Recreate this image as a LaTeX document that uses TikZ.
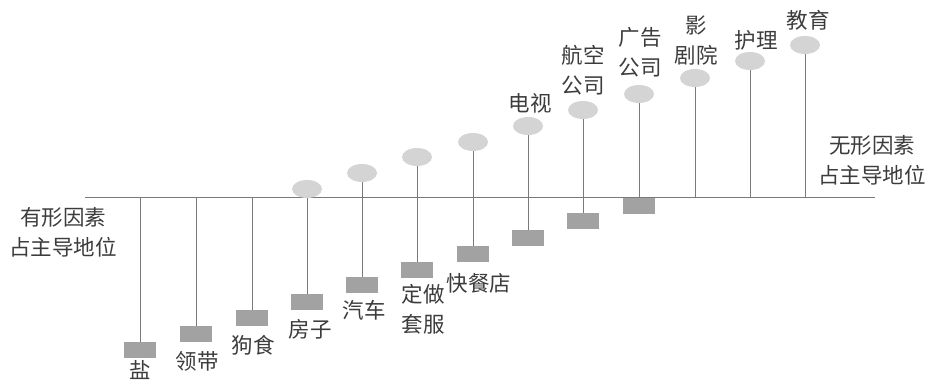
\documentclass[tikz,border=0pt]{standalone}
\usepackage{fontspec}
\setmainfont{Noto Sans CJK SC}
\usetikzlibrary{shapes.geometric}
\definecolor{boxgray}{HTML}{A2A2A2}
\definecolor{elgray}{HTML}{D4D4D4}
\definecolor{linegray}{HTML}{7A7A7A}
\definecolor{txtgray}{HTML}{3C3C3C}
\tikzset{
  boxnode/.style={rectangle, fill=boxgray, minimum width=32pt, minimum height=16pt, inner sep=0pt},
  elnode/.style={ellipse, fill=elgray, minimum width=30pt, minimum height=18pt, inner sep=0pt},
  lbl/.style={text=txtgray, font=\fontsize{21.5}{30}\selectfont, align=center, inner sep=0pt},
  conn/.style={draw=linegray, line width=0.9pt}
}
\begin{document}
\begin{tikzpicture}[x=1pt,y=-1pt]
\useasboundingbox (0,0) rectangle (934,382);
% main axis
\coordinate (L) at (85,197);
\coordinate (R) at (875,197);
\draw[conn] (L) -- (R);
% axis attachment points
\coordinate (a1) at (140,197);
\coordinate (a2) at (196,197);
\coordinate (a3) at (252,197);
\coordinate (a11) at (695,197);
\coordinate (a12) at (750,197);
\coordinate (a13) at (805,197);
% boxes
\node[boxnode] (b1) at (140,350) {};
\node[boxnode] (b2) at (196,334) {};
\node[boxnode] (b3) at (252,318) {};
\node[boxnode] (b4) at (307,302) {};
\node[boxnode] (b5) at (362,285) {};
\node[boxnode] (b6) at (417,270) {};
\node[boxnode] (b7) at (473,254) {};
\node[boxnode] (b8) at (528,238) {};
\node[boxnode] (b9) at (583,221) {};
\node[boxnode] (b10) at (639,206) {};
% ellipses
\node[elnode] (e4) at (307,189) {};
\node[elnode] (e5) at (362,173) {};
\node[elnode] (e6) at (417,157) {};
\node[elnode] (e7) at (473,142) {};
\node[elnode] (e8) at (528,126) {};
\node[elnode] (e9) at (583,110) {};
\node[elnode] (e10) at (639,94) {};
\node[elnode] (e11) at (695,78) {};
\node[elnode] (e12) at (750,61) {};
\node[elnode] (e13) at (805,45) {};
% connectors
\draw[conn] (a1) -- (b1.north);
\draw[conn] (a2) -- (b2.north);
\draw[conn] (a3) -- (b3.north);
\draw[conn] (e4.south) -- (b4.north);
\draw[conn] (e5.south) -- (b5.north);
\draw[conn] (e6.south) -- (b6.north);
\draw[conn] (e7.south) -- (b7.north);
\draw[conn] (e8.south) -- (b8.north);
\draw[conn] (e9.south) -- (b9.north);
\draw[conn] (e10.south) -- (b10.north);
\draw[conn] (e11.south) -- (a11);
\draw[conn] (e12.south) -- (a12);
\draw[conn] (e13.south) -- (a13);
% labels
\node[lbl] (t1) at (140,370) {盐};
\node[lbl] (t2) at (197,361) {领带};
\node[lbl] (t3) at (253,345) {狗食};
\node[lbl] (t4) at (310,329) {房子};
\node[lbl] (t5) at (364,310) {汽车};
\node[lbl] (t6) at (423,309) {定做\\套服};
\node[lbl] (t7) at (479,283) {快餐店};
\node[lbl] (t8) at (530,103) {电视};
\node[lbl] (t9) at (583,70) {航空\\公司};
\node[lbl] (t10) at (640,52) {广告\\公司};
\node[lbl] (t11) at (696,41) {影\\剧院};
\node[lbl] (t12) at (756,40) {护理};
\node[lbl] (t13) at (808,20) {教育};
\node[lbl] (tl) at (63,232) {有形因素\\占主导地位};
\node[lbl] (tr) at (872,160) {无形因素\\占主导地位};
\end{tikzpicture}
\end{document}
